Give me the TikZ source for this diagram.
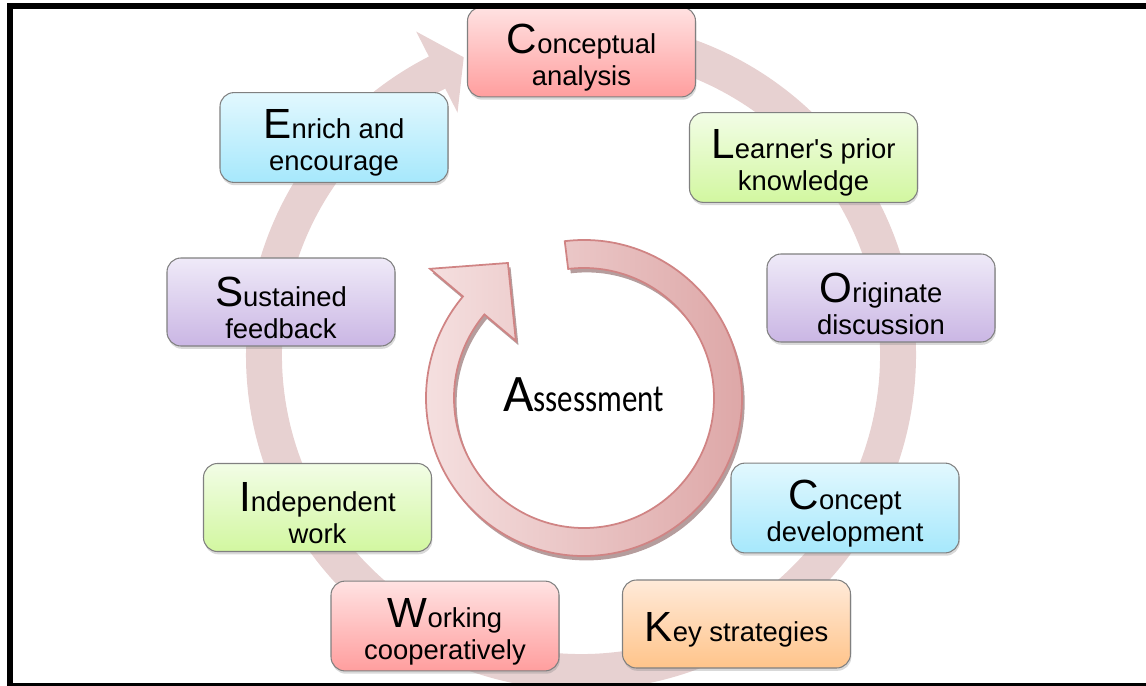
\documentclass[tikz,border=0pt]{standalone}
\usepackage{fontspec}
\setmainfont{Liberation Sans}
\newfontfamily\calibrifont{Carlito}
\newfontfamily\calibrinarrow[FakeStretch=0.8]{Carlito}
\usepackage{xcolor}
\usepackage{tikz}
\usetikzlibrary{shadows}
\definecolor{RingPink}{RGB}{231,209,209}
\definecolor{ArrowLight}{RGB}{245,224,224}
\definecolor{ArrowDark}{RGB}{221,166,166}
\definecolor{ArrowEdge}{RGB}{208,132,132}
\definecolor{ArrowShade}{RGB}{150,116,116}
\newcommand{\FirstL}[1]{\rule{0pt}{23pt}{\fontsize{24}{24}\selectfont #1}}
\tikzset{
  MyBox/.style={
    rectangle, rounded corners=2.8mm,
    minimum width=4.56cm, minimum height=1.76cm,
    align=center, line width=0.6pt, draw=black!50,
    font=\fontsize{15.6}{18.2}\selectfont,
    drop shadow={shadow xshift=0.5pt, shadow yshift=-1.6pt, opacity=0.3},
  },
  RedBox/.style={MyBox, top color={rgb,255:red,255;green,226;blue,226}, bottom color={rgb,255:red,255;green,158;blue,158}},
  GreenBox/.style={MyBox, top color={rgb,255:red,242;green,253;blue,230}, bottom color={rgb,255:red,210;green,247;blue,160}},
  PurpleBox/.style={MyBox, top color={rgb,255:red,239;green,234;blue,248}, bottom color={rgb,255:red,202;green,182;blue,228}},
  BlueBox/.style={MyBox, top color={rgb,255:red,226;green,248;blue,254}, bottom color={rgb,255:red,166;green,232;blue,252}},
  OrangeBox/.style={MyBox, top color={rgb,255:red,255;green,234;blue,217}, bottom color={rgb,255:red,255;green,196;blue,138}},
}
\begin{document}
\begin{tikzpicture}
\useasboundingbox (0,0) rectangle (22.92,13.7);
\clip (0,0) rectangle (22.92,13.7);
\begin{scope}[shift={(11.62,6.60)}]
\fill[RingPink] (85:6.70) arc[start angle=85, end angle=-243, radius=6.70] -- (-243:7.26) -- (-248.5:6.40) -- (-243:5.44) -- (-243:5.98) arc[start angle=-243, end angle=85, radius=5.98] -- cycle;
\end{scope}
\begin{scope}[shift={(11.68,5.74)}]
\path[draw=ArrowEdge, line width=1pt, left color=ArrowLight, right color=ArrowDark, drop shadow={shadow xshift=1.5pt, shadow yshift=-2.5pt, fill=ArrowShade, opacity=0.7}] (97:3.16) arc[start angle=97, end angle=-220, radius=3.16] -- (-220:4.02) -- (-240.6:3.10) -- (-220:1.78) -- (-220:2.60) arc[start angle=-220, end angle=97, radius=2.60] -- cycle;
\end{scope}
\node[anchor=base] (ASSESS) at (11.67,5.48) {{\calibrifont\fontsize{30}{30}\selectfont A}{\calibrinarrow\fontsize{22}{22}\selectfont ssessment}};
\node[RedBox] (CONAN) at (11.63,12.66) {\FirstL{C}onceptual\\analysis};
\node[GreenBox] (LEARN) at (16.07,10.55) {\FirstL{L}earner\textquotesingle s prior\\knowledge};
\node[PurpleBox] (ORIG) at (17.62,7.74) {\FirstL{O}riginate\\discussion};
\node[BlueBox] (CONDEV) at (16.90,3.54) {\FirstL{C}oncept\\development};
\node[OrangeBox] (KEY) at (14.73,1.22) {\FirstL{K}ey strategies};
\node[RedBox] (WORK) at (8.90,1.18) {\FirstL{W}orking\\cooperatively};
\node[GreenBox] (INDEP) at (6.35,3.55) {\FirstL{I}ndependent\\work};
\node[PurpleBox] (SUST) at (5.62,7.66) {\FirstL{S}ustained\\feedback};
\node[BlueBox] (ENRICH) at (6.68,10.95) {\FirstL{E}nrich and\\encourage};
\draw[line width=1.2mm] (23.2,13.58) -- (0.2,13.58) -- (0.2,-0.02) -- (23.2,-0.02);
\end{tikzpicture}
\end{document}
